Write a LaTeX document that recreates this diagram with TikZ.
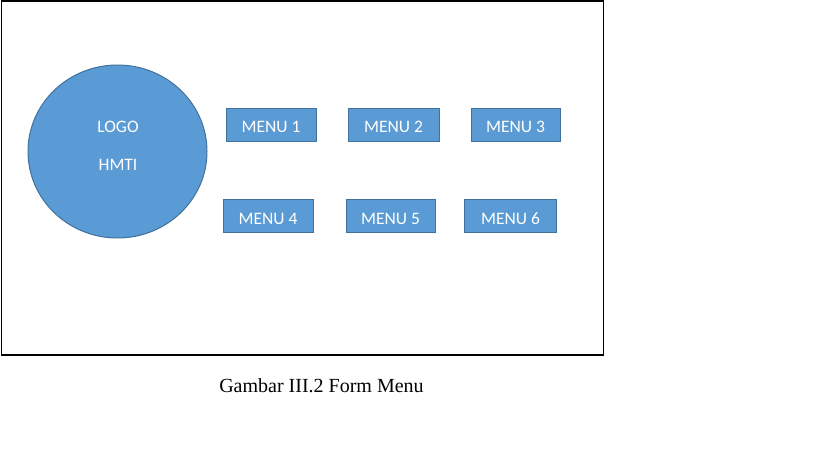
\documentclass[tikz,border=0pt]{standalone}
\usepackage{fontspec}
\setmainfont{Liberation Serif}
\newfontfamily\calib{Carlito}
\definecolor{ofill}{HTML}{5B9BD5}
\definecolor{oline}{HTML}{41719C}
\tikzset{
  menubox/.style={draw=oline, fill=ofill, line width=1pt, text=white, font=\calib\fontsize{17.5}{20}\selectfont, inner sep=0pt, text height=16.7pt, text depth=0pt},
  logo/.style={draw=oline, fill=ofill, line width=1pt},
  logotext/.style={text=white, font=\calib\fontsize{17.5}{20}\selectfont, anchor=base, inner sep=0pt}
}
\begin{document}
\begin{tikzpicture}[x=1pt,y=-1pt]
\useasboundingbox (0,0) rectangle (819,460);
\node[draw=black, line width=1.6pt, minimum width=602pt, minimum height=354pt, inner sep=0pt] (frame) at (302.5,178) {};
\path[logo] (117.5,151.5) ellipse [x radius=89.5, y radius=86.5];
\node[logotext] (logo1) at (118,132.3) {LOGO};
\node[logotext] (logo2) at (118,170.7) {HMTI};
\node[menubox, minimum width=90pt, minimum height=33pt] (m1) at (271,124.5) {MENU 1};
\node[menubox, minimum width=91pt, minimum height=33pt] (m2) at (393.5,124.5) {MENU 2};
\node[menubox, minimum width=89pt, minimum height=33pt] (m3) at (515.5,124.5) {MENU 3};
\node[menubox, minimum width=90pt, minimum height=33pt] (m4) at (268,216) {MENU 4};
\node[menubox, minimum width=89pt, minimum height=33pt] (m5) at (390.5,216) {MENU 5};
\node[menubox, minimum width=92pt, minimum height=33pt] (m6) at (510.5,216) {MENU 6};
\node[font=\fontsize{20}{24}\selectfont, anchor=base] (cap) at (321.5,392.5) {Gambar III.2 Form Menu};
\end{tikzpicture}
\end{document}
